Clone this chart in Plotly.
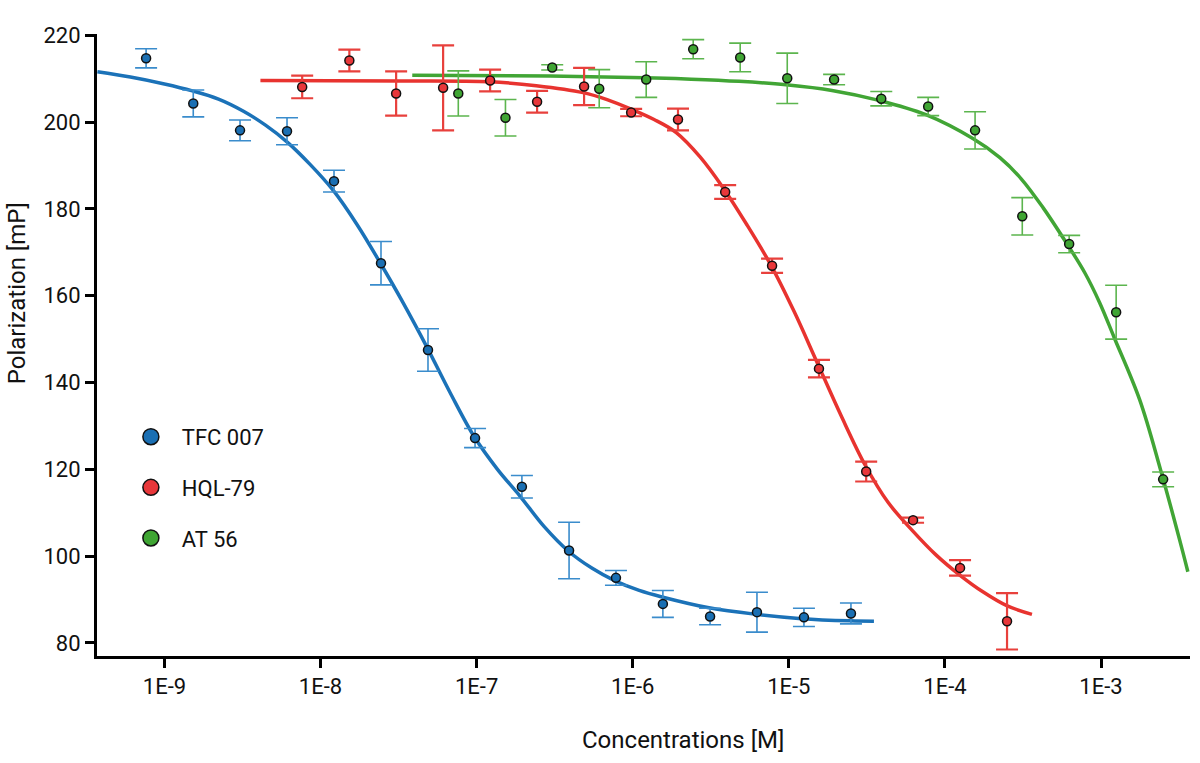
import plotly.graph_objects as go

# ---------------- data ----------------
names = ["TFC 007", "HQL-79", "AT 56"]

conc_tfc = [7.63e-10, 1.53e-9, 3.05e-9, 6.10e-9, 1.22e-8, 2.44e-8, 4.88e-8, 9.77e-8,
            1.95e-7, 3.91e-7, 7.81e-7, 1.56e-6, 3.13e-6, 6.25e-6, 1.25e-5, 2.50e-5]
pol_tfc = [214.7, 204.3, 198.1, 197.9, 186.4, 167.5, 147.5, 127.2,
           116.0, 101.3, 95.0, 89.0, 86.1, 87.1, 85.9, 86.8]
err_tfc = [2.2, 3.1, 2.4, 3.1, 2.5, 5.0, 4.9, 2.2,
           2.6, 6.5, 1.7, 3.1, 1.9, 4.6, 2.1, 2.4]

conc_hql = [7.63e-9, 1.53e-8, 3.05e-8, 6.10e-8, 1.22e-7, 2.44e-7, 4.88e-7, 9.77e-7,
            1.95e-6, 3.91e-6, 7.81e-6, 1.56e-5, 3.13e-5, 6.25e-5, 1.25e-4, 2.50e-4]
pol_hql = [208.1, 214.2, 206.6, 207.9, 209.6, 204.7, 208.2, 202.2,
           200.6, 183.9, 166.9, 143.2, 119.5, 108.3, 97.3, 85.0]
err_hql = [2.6, 2.5, 5.1, 9.8, 2.5, 2.5, 4.3, 0.85,
           2.5, 1.6, 1.65, 2.0, 2.3, 0.6, 1.8, 6.5]

conc_at = [7.63e-8, 1.53e-7, 3.05e-7, 6.10e-7, 1.22e-6, 2.44e-6, 4.88e-6, 9.77e-6,
           1.95e-5, 3.91e-5, 7.81e-5, 1.56e-4, 3.13e-4, 6.25e-4, 1.25e-3, 2.50e-3]
pol_at = [206.6, 201.0, 212.6, 207.7, 209.8, 216.8, 214.9, 210.1,
          209.8, 205.4, 203.6, 198.1, 178.3, 171.9, 156.2, 117.7]
err_at = [5.2, 4.2, 0.6, 4.4, 4.1, 2.2, 3.3, 5.8,
          1.2, 1.65, 2.1, 4.3, 4.3, 2.0, 6.2, 1.7]

# fitted curves
fit_x_tfc = [3.72e-10, 6.05e-10, 1.0e-9, 1.51e-9, 2.22e-9, 3.21e-9, 4.44e-9, 6.12e-9,
             8.6e-9, 1.21e-8, 1.72e-8, 2.41e-8, 3.39e-8, 4.83e-8, 6.78e-8, 9.66e-8,
             1.36e-7, 1.90e-7, 2.71e-7, 3.86e-7, 5.50e-7, 7.71e-7, 1.10e-6, 1.54e-6,
             3.08e-6, 6.17e-6, 1.21e-5, 2.47e-5, 3.51e-5]
fit_y_tfc = [211.6, 210.4, 208.8, 207.2, 205.3, 202.5, 199.3, 195.4,
             190.2, 184.2, 176.3, 167.6, 158.3, 148.0, 137.6, 127.5,
             120.0, 113.8, 106.8, 101.2, 97.2, 94.3, 92.1, 90.6,
             88.1, 86.6, 85.6, 85.1, 85.0]

fit_x_hql = [4.12e-9, 3.24e-8, 1.21e-7, 2.41e-7, 4.81e-7, 6.85e-7, 9.77e-7, 1.37e-6,
             1.90e-6, 2.70e-6, 3.79e-6, 5.40e-6, 7.69e-6, 1.08e-5, 1.51e-5, 2.16e-5,
             3.08e-5, 4.32e-5, 6.15e-5, 8.76e-5, 1.25e-4, 1.75e-4, 2.49e-4, 3.61e-4]
fit_y_hql = [209.6, 209.5, 209.3, 208.4, 206.8, 205.2, 203.0, 200.6,
             197.6, 192.0, 184.9, 176.3, 167.0, 156.4, 144.8, 132.4,
             121.0, 112.4, 106.0, 100.3, 95.6, 91.8, 88.6, 86.6]

fit_x_at = [3.87e-8, 2.96e-7, 1.2e-6, 2.37e-6, 4.8e-6, 9.6e-6, 1.89e-5, 3.78e-5, 7.55e-5,
            1.51e-4, 2.25e-4, 3.07e-4, 4.25e-4, 6.04e-4, 7.87e-4, 9.8e-4, 1.21e-3, 1.77e-3,
            2.41e-3, 3.34e-3, 3.6e-3]
fit_y_at = [210.8, 210.6, 210.2, 209.9, 209.4, 208.6, 207.3, 205.0, 201.7,
            196.2, 191.8, 187.0, 180.3, 172.0, 165.3, 158.4, 150.5, 136.0,
            119.8, 101.0, 96.4]

tick_vals = [1e-9, 1e-8, 1e-7, 1e-6, 1e-5, 1e-4, 1e-3]
tick_text = ["1E-9", "1E-8", "1E-7", "1E-6", "1E-5", "1E-4", "1E-3"]
y_ticks = [80, 100, 120, 140, 160, 180, 200, 220]

# ---------------- styling ----------------
FONT = "Roboto"
line_cols = ["#1b72b8", "#e8332f", "#41a535"]
fill_cols = ["#1a6fb3", "#e8373a", "#3fa533"]
err_cols = ["#3a8ccc", "#e8403c", "#5cb54e"]
err_w = [1.6, 2.2, 1.6]

series = [
    (conc_tfc, pol_tfc, err_tfc, fit_x_tfc, fit_y_tfc),
    (conc_hql, pol_hql, err_hql, fit_x_hql, fit_y_hql),
    (conc_at, pol_at, err_at, fit_x_at, fit_y_at),
]

fig = go.Figure()

for i, (cx, py, pe, fx, fy) in enumerate(series):
    fig.add_trace(go.Scatter(
        x=fx, y=fy, mode="lines",
        line=dict(color=line_cols[i], width=3.5, shape="spline", smoothing=1.0),
        showlegend=False, hoverinfo="skip"))

for i, (cx, py, pe, fx, fy) in enumerate(series):
    fig.add_trace(go.Scatter(
        x=cx, y=py, mode="markers",
        marker=dict(size=9, color=fill_cols[i], line=dict(color="#111111", width=1.5)),
        error_y=dict(type="data", array=pe, visible=True, color=err_cols[i],
                     thickness=err_w[i], width=11),
        showlegend=False, name=names[i]))

# legend-only entries
for i in range(3):
    fig.add_trace(go.Scatter(
        x=[None], y=[None], mode="markers", name="\u00a0\u00a0" + names[i],
        marker=dict(size=16, color=fill_cols[i], line=dict(color="#111111", width=1.5)),
        legendgroup=names[i], showlegend=True))

fig.update_layout(
    width=1200, height=763,
    margin=dict(l=97, r=10, t=34, b=107),
    paper_bgcolor="white", plot_bgcolor="white",
    font=dict(family=FONT, size=22, color="#111111"),
    showlegend=True,
    legend=dict(x=0.031, y=0.271, xanchor="left", yanchor="middle",
                font=dict(family=FONT, size=22, color="#111111"),
                tracegroupgap=19, bgcolor="rgba(0,0,0,0)", itemsizing="trace"),
    xaxis=dict(type="log", range=[-9.432, -2.43], tickvals=tick_vals, ticktext=tick_text,
               showgrid=False, zeroline=False, showline=True, linecolor="black", linewidth=3,
               ticks="outside", ticklen=9, tickwidth=3, tickcolor="black",
               tickfont=dict(family=FONT, size=22, color="#111111")),
    yaxis=dict(range=[77.0, 220.3], tickvals=y_ticks, showgrid=False, zeroline=False,
               showline=True, linecolor="black", linewidth=3,
               ticks="outside", ticklen=9, tickwidth=3, tickcolor="black",
               tickfont=dict(family=FONT, size=22, color="#111111")),
    annotations=[
        dict(text="Concentrations [M]", xref="paper", yref="paper", x=(683 - 97) / 1093,
             y=-0.135, xanchor="center", yanchor="middle", showarrow=False,
             font=dict(family=FONT, size=24, color="#111111")),
        dict(text="Polarization [mP]", xref="paper", yref="paper", x=-0.073,
             y=(656 - 293) / 622, xanchor="center", yanchor="middle", showarrow=False,
             textangle=-90, font=dict(family=FONT, size=24, color="#111111")),
    ],
)

fig.write_html("out.html", config={"displayModeBar": False},
               post_script="document.body.style.margin='0px';")
